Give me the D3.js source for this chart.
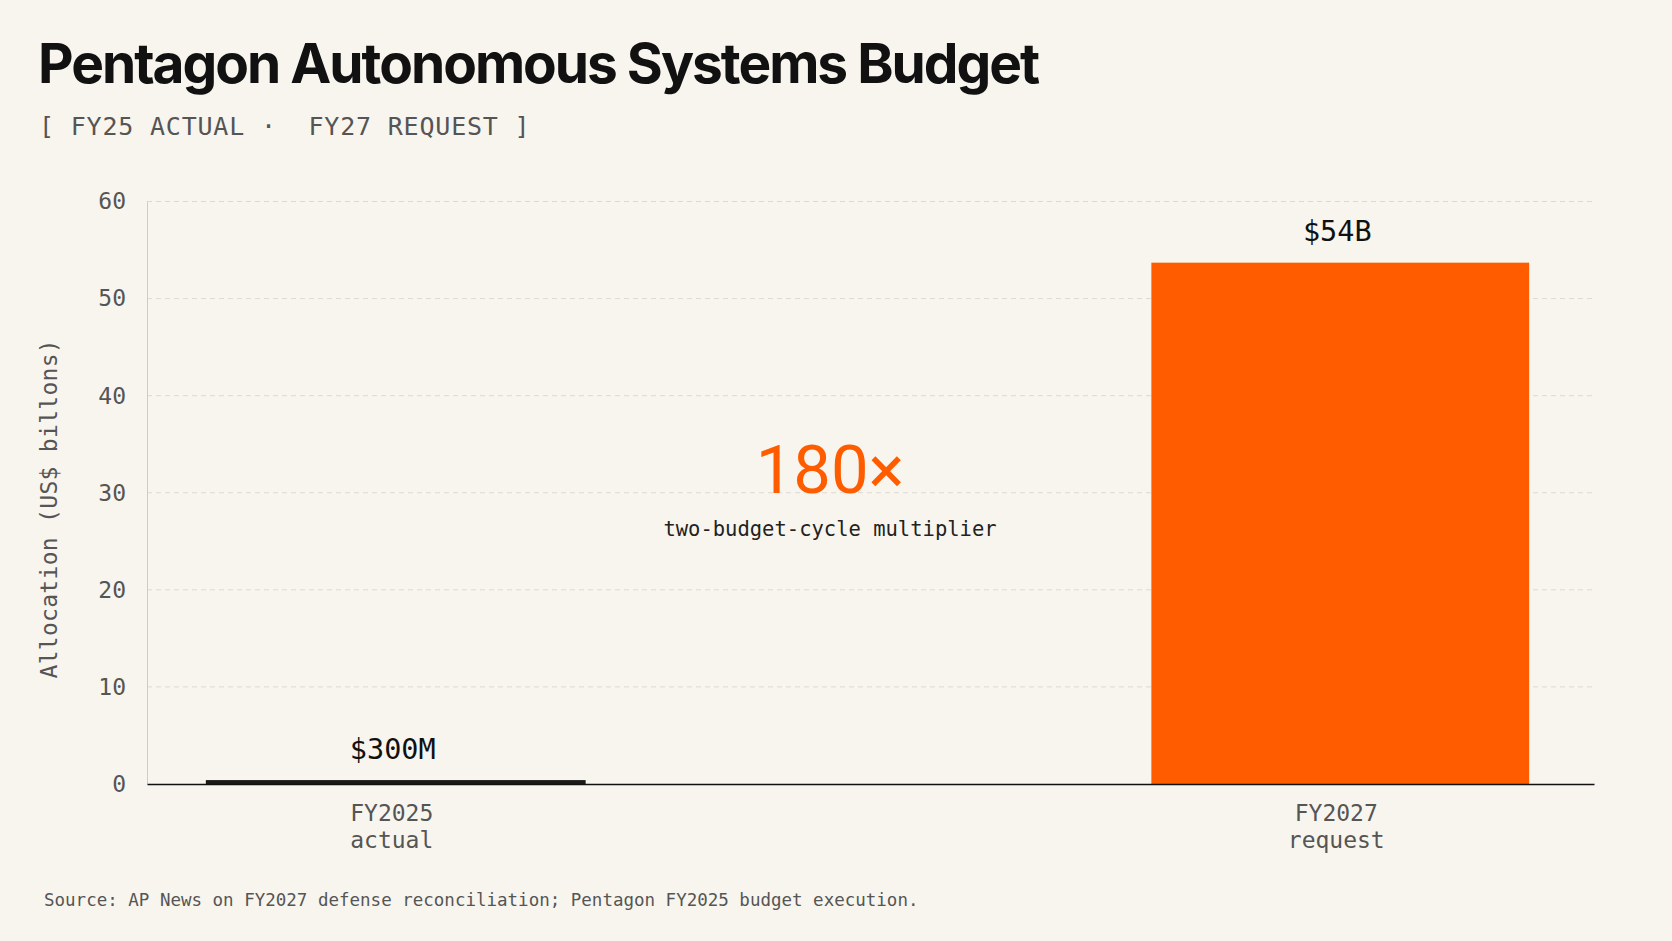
<!DOCTYPE html>
<html>
<head>
<meta charset="utf-8">
<script src="https://cdn.jsdelivr.net/npm/d3@7"></script>
<style>
  html, body { margin: 0; padding: 0; background: #f8f5ee; }
  svg { display: block; }
</style>
</head>
<body>
<svg id="chart" width="1672" height="941"></svg>
<script>
// ---- data ----
const categories = ["FY2025", "FY2027"];
const categorySub = ["actual", "request"];
const values = [0.3, 53.7];          // US$ billions
const valueLabels = ["$300M", "$54B"];
const yTicks = [0, 10, 20, 30, 40, 50, 60];
const titleText = "Pentagon Autonomous Systems Budget";
const subtitleText = "[ FY25 ACTUAL ·  FY27 REQUEST ]";
const yAxisTitle = "Allocation (US$ billons)";
const multiplierText = "180×";
const multiplierSub = "two-budget-cycle multiplier";
const sourceText = "Source: AP News on FY2027 defense reconciliation; Pentagon FY2025 budget execution.";
const barColors = ["#1a1a1a", "#ff5c00"];

// ---- layout ----
const W = 1672, H = 941;
const m = { left: 147, right: 78, top: 201.5, bottom: 157 };
const svg = d3.select("#chart");
svg.append("rect").attr("width", W).attr("height", H).attr("fill", "#f8f5ee");

const mono = "'DejaVu Sans Mono', 'Liberation Mono', monospace";
const sans = "Inter, 'Noto Sans', sans-serif";

const x = d3.scaleBand().domain(categories)
  .range([m.left, W - m.right]).paddingInner(0.6).paddingOuter(0.066).align(0.48);
const y = d3.scaleLinear().domain([0, 60]).range([H - m.bottom, m.top]);

// title
svg.append("text").attr("x", 38).attr("y", 83)
  .attr("font-family", sans).attr("font-weight", 700).attr("font-size", 55)
  .attr("letter-spacing", -2).attr("fill", "#111").text(titleText);
svg.append("text").attr("x", 39).attr("y", 135)
  .attr("font-family", mono).attr("font-size", 25).attr("letter-spacing", 0.8)
  .attr("fill", "#555").style("white-space", "pre").text(subtitleText);

// grid
const g = svg.append("g");
g.selectAll("line.grid").data(yTicks.filter(d => d > 0)).join("line")
  .attr("class", "grid")
  .attr("x1", m.left).attr("x2", W - m.right)
  .attr("y1", d => y(d)).attr("y2", d => y(d))
  .attr("stroke", "#dcd9d2").attr("stroke-width", 1).attr("stroke-dasharray", "5,4");

// y axis
const yAxis = g.append("g").attr("transform", `translate(${m.left},0)`)
  .call(d3.axisLeft(y).tickValues(yTicks).tickSize(0).tickPadding(21));
yAxis.select(".domain").attr("stroke", "#cfccc5").attr("stroke-width", 1);
yAxis.selectAll("text").attr("font-family", mono).attr("font-size", 23).attr("fill", "#555");

// y axis title
svg.append("text")
  .attr("transform", `translate(57,${(y(0) + y(60)) / 2 + 16}) rotate(-90)`)
  .attr("text-anchor", "middle").attr("font-family", mono).attr("font-size", 23)
  .attr("letter-spacing", 0.3).attr("fill", "#555").text(yAxisTitle);

// bars
g.selectAll("rect.bar").data(categories).join("rect")
  .attr("class", "bar")
  .attr("x", d => x(d)).attr("width", x.bandwidth())
  .attr("y", (d, i) => y(values[i])).attr("height", (d, i) => y(0) - y(values[i]))
  .attr("fill", (d, i) => barColors[i])
  .attr("stroke", (d, i) => barColors[i]).attr("stroke-width", (d, i) => i === 0 ? 2 : 0);

// x axis line
const xAxis = g.append("g").attr("transform", `translate(0,${y(0)})`)
  .call(d3.axisBottom(x).tickSize(0).tickFormat(""));
xAxis.select(".domain").attr("stroke", "#111").attr("stroke-width", 1.6);

// x labels
const xl = g.selectAll("text.xl").data(categories).join("text")
  .attr("class", "xl").attr("text-anchor", "middle")
  .attr("font-family", mono).attr("font-size", 23).attr("fill", "#555");
xl.append("tspan").attr("x", d => x(d) + x.bandwidth() / 2 - 4).attr("y", y(0) + 37).text(d => d);
xl.append("tspan").attr("x", d => x(d) + x.bandwidth() / 2 - 4).attr("y", y(0) + 64)
  .text((d, i) => categorySub[i]);

// value labels
g.selectAll("text.vl").data(categories).join("text")
  .attr("class", "vl").attr("text-anchor", "middle")
  .attr("x", d => x(d) + x.bandwidth() / 2 - 3)
  .attr("y", (d, i) => y(values[i]) - 22)
  .attr("font-family", mono).attr("font-size", 28.5).attr("fill", "#111")
  .text((d, i) => valueLabels[i]);

// multiplier annotation
const midX = (x(categories[0]) + x(categories[1]) + x.bandwidth()) / 2 - 38;
svg.append("text").attr("x", midX).attr("y", 493)
  .attr("text-anchor", "middle").attr("font-family", "Roboto, Inter, sans-serif")
  .attr("font-weight", 400).attr("font-size", 67).attr("fill", "#ff5c00")
  .text(multiplierText);
svg.append("text").attr("x", midX).attr("y", 536)
  .attr("text-anchor", "middle").attr("font-family", mono).attr("font-size", 20.5)
  .attr("fill", "#222").text(multiplierSub);

// source
svg.append("text").attr("x", 44).attr("y", 906)
  .attr("font-family", mono).attr("font-size", 17.5).attr("fill", "#555")
  .text(sourceText);
</script>
</body>
</html>
